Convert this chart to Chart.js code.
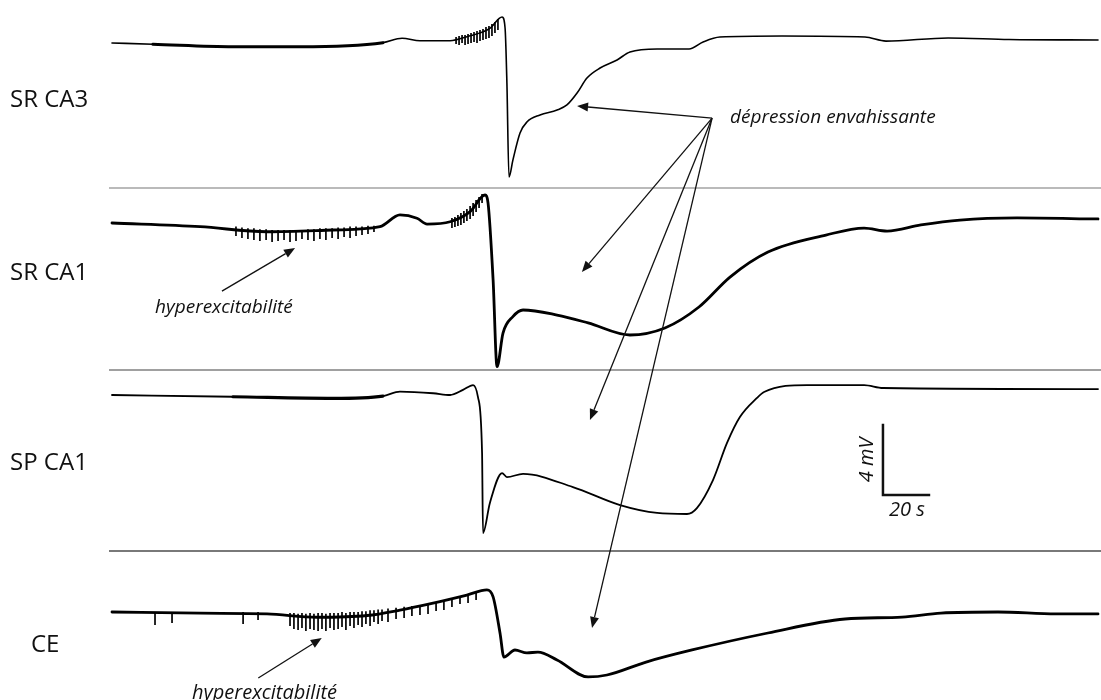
<!DOCTYPE html>
<html>
<head>
<meta charset="utf-8">
<script src="https://cdn.jsdelivr.net/npm/chart.js@4.4.0/dist/chart.umd.min.js"></script>
<style>
  body { margin: 0; background: #fff; }
  #wrap { position: relative; width: 1101px; height: 700px; }
</style>
</head>
<body>
<div id="wrap"><canvas id="traces"></canvas></div>
<script>
// time in s, potential in mV (0 = level at start of each recording)
const traceNames = ["SR CA3", "SR CA1", "SP CA1", "CE"];

const srCA3Time = [0, 17.8, 52.6, 81.7, 117.8, 126.1, 133.9, 147, 154.3, 164.3, 169.6, 170.9, 171.7, 172.6, 174.3, 177.4, 180.4, 186.1, 193.5, 197.8, 202.2, 206.5, 212.2, 219.6, 225.2, 237, 250.9, 257, 264.3, 291.3, 327.4, 336.5, 363.5, 390, 428.7];
const srCA3mV   = [0, -0.07, -0.21, -0.21, 0.02, 0.27, 0.13, 0.13, 0.36, 0.84, 1.49, 0.86, -2.29, -7.66, -6.69, -5.14, -4.51, -4.11, -3.83, -3.54, -2.86, -2.0, -1.43, -0.97, -0.51, -0.34, -0.34, 0.06, 0.34, 0.4, 0.34, 0.11, 0.29, 0.2, 0.17];

const srCA1Time = [0, 38.3, 67.4, 96.1, 116.5, 125.2, 132.6, 137, 147, 155.7, 162.2, 163.5, 165.7, 167.4, 170, 174.3, 178.7, 193.5, 207, 225.2, 240.4, 255.2, 268.7, 285.2, 310.4, 327, 337, 351.7, 368.7, 393.5, 428.7];
const srCA1mV   = [0, -0.21, -0.5, -0.4, -0.21, 0.46, 0.27, -0.06, 0.07, 0.65, 1.6, 1.14, -3.26, -8.21, -6.29, -5.35, -4.97, -5.26, -5.71, -6.4, -6.0, -4.8, -3.09, -1.66, -0.69, -0.29, -0.46, -0.11, 0.17, 0.29, 0.23];

const spCA1Time = [0, 52.6, 96.1, 117.8, 125.2, 139.6, 147, 152.6, 157, 159.1, 160.9, 161.3, 164.3, 169.6, 171.7, 178.7, 200.4, 220.9, 237, 250, 254.3, 261.3, 267.4, 273, 280.4, 283.5, 302.2, 327, 335.2, 428.7];
const spCA1mV   = [0, -0.1, -0.19, -0.06, 0.19, 0.1, 0, 0.29, 0.57, -0.11, -3.31, -7.89, -6.17, -4.46, -4.69, -4.51, -5.26, -6.29, -6.74, -6.8, -6.46, -4.86, -2.74, -1.26, -0.17, 0.17, 0.57, 0.57, 0.4, 0.34];

const ceTime = [0, 38.3, 67.4, 89.1, 110.9, 125.2, 139.6, 154.3, 163, 165.7, 168.7, 170.4, 175.2, 180.4, 185.2, 193.5, 207, 215.2, 232.2, 252.2, 285.2, 318.7, 343.5, 360.4, 385.2, 410.4, 428.7];
const ceMV   = [0, -0.07, -0.11, -0.3, -0.2, 0.11, 0.51, 0.97, 1.26, 0.86, -1.2, -2.57, -2.17, -2.34, -2.29, -2.74, -3.71, -3.6, -2.86, -2.17, -1.2, -0.4, -0.29, -0.06, 0, -0.11, -0.11];

// fast deflections (hyperexcitability): time, lowest and highest excursion
const srCA3NoiseTime = [149.6, 150.9, 152.2, 153.5, 154.8, 156.1, 157.4, 158.7, 160, 161.3, 162.6, 163.9, 165.2, 166.5, 167.8];
const srCA3NoiseLo   = [-0.06, -0.11, 0, -0.11, -0.06, 0, 0.06, 0, 0.11, 0.17, 0.23, 0.29, 0.4, 0.57, 0.74];
const srCA3NoiseHi   = [0.34, 0.4, 0.46, 0.46, 0.51, 0.57, 0.63, 0.69, 0.74, 0.8, 0.91, 0.97, 1.09, 1.2, 1.37];

const srCA1NoiseTime = [53.9, 56.5, 59.1, 61.7, 64.3, 67, 69.6, 72.2, 74.8, 77.4, 80, 82.6, 85.2, 87.8, 90.4, 93, 95.7, 98.3, 100.9, 103.5, 106.1, 108.7, 111.3, 113.9, 147.8, 149.1, 150.4, 151.7, 153, 154.3, 155.7, 157, 158.3, 159.6, 160.9];
const srCA1NoiseLo   = [-0.74, -0.86, -0.91, -0.97, -1.03, -0.97, -1.09, -1.03, -0.97, -1.09, -1.03, -0.91, -0.97, -1.03, -0.91, -0.97, -0.86, -0.91, -0.8, -0.86, -0.74, -0.69, -0.63, -0.51, -0.29, -0.23, -0.17, -0.11, 0, 0.11, 0.23, 0.4, 0.63, 0.86, 1.14];
const srCA1NoiseHi   = [-0.2, -0.25, -0.3, -0.3, -0.35, -0.35, -0.4, -0.4, -0.4, -0.4, -0.4, -0.4, -0.35, -0.35, -0.3, -0.3, -0.3, -0.25, -0.25, -0.2, -0.2, -0.2, -0.15, -0.15, 0.29, 0.34, 0.46, 0.57, 0.69, 0.8, 0.97, 1.14, 1.31, 1.49, 1.66];

const ceNoiseTime = [18.7, 26.1, 57, 63.5, 77.4, 79.1, 80.9, 82.6, 84.3, 86.1, 87.8, 89.6, 91.3, 93, 94.8, 96.5, 98.3, 100, 101.7, 103.5, 105.2, 107, 108.7, 110.4, 112.2, 113.9, 115.7, 117.4, 120, 123.5, 127, 130.4, 133.9, 137.4, 140.9, 144.3, 147.8, 151.3, 154.8, 158.3];
const ceNoiseLo   = [-0.74, -0.63, -0.69, -0.46, -0.8, -0.97, -1.03, -0.91, -1.09, -0.97, -1.03, -1.09, -0.97, -1.09, -0.91, -1.03, -0.97, -0.86, -1.03, -0.8, -0.91, -0.74, -0.86, -0.69, -0.8, -0.57, -0.69, -0.51, -0.57, -0.4, -0.34, -0.23, -0.17, -0.11, 0.06, 0.11, 0.29, 0.46, 0.51, 0.69];
const ceNoiseHi   = [0, 0, 0, 0, -0.06, -0.06, -0.1, -0.06, -0.1, -0.06, -0.1, -0.06, -0.06, -0.1, -0.06, -0.06, -0.06, 0, -0.06, 0, 0, 0, 0.05, 0.05, 0.1, 0.1, 0.15, 0.15, 0.2, 0.25, 0.3, 0.34, 0.4, 0.46, 0.57, 0.63, 0.74, 0.86, 0.97, 1.09];

// stretches where the trace is fuzzy (low-amplitude activity), in s
const srCA3Fuzzy = [[17, 120]];
const srCA1Fuzzy = [];
const spCA1Fuzzy = [[50, 118]];
const ceFuzzy = [];

// scale bar: 4 mV, 20 s
const scaleBarMV = 4;
const scaleBarS = 20;

// layout (pixels)
const PX_PER_S = 2.3;
const PX_PER_MV = 17.5;
const X0 = 112;
const H = 700, W = 1101;
const baselinePx = [43, 223, 395, 612];
const separatorPx = [188, 370, 551];
const separatorColor = ["#a3a3a3", "#808080", "#4d4d4d"];
const labelPos = [[10, 100], [10, 273], [10, 463], [31, 645]];
const lineWidths = [1.6, 2.8, 1.8, 2.8];

function toPoints(ts, vs) {
  return ts.map((t, i) => ({ x: t, y: vs[i] }));
}
function toSpikes(ts, lo, hi) {
  const pts = [];
  ts.forEach((t, i) => {
    pts.push({ x: t, y: lo[i] }, { x: t, y: hi[i] }, { x: t, y: null });
  });
  return pts;
}

const traces = [
  { t: srCA3Time, v: srCA3mV, nt: srCA3NoiseTime, nlo: srCA3NoiseLo, nhi: srCA3NoiseHi, fuzzy: srCA3Fuzzy },
  { t: srCA1Time, v: srCA1mV, nt: srCA1NoiseTime, nlo: srCA1NoiseLo, nhi: srCA1NoiseHi, fuzzy: srCA1Fuzzy },
  { t: spCA1Time, v: spCA1mV, nt: [], nlo: [], nhi: [], fuzzy: spCA1Fuzzy },
  { t: ceTime, v: ceMV, nt: ceNoiseTime, nlo: ceNoiseLo, nhi: ceNoiseHi, fuzzy: ceFuzzy }
];

const datasets = [];
const scales = {
  x: { type: "linear", display: false, min: -X0 / PX_PER_S, max: (W - X0) / PX_PER_S }
};
traces.forEach((tr, i) => {
  const id = "y" + i;
  scales[id] = {
    type: "linear", display: false,
    min: -(H - baselinePx[i]) / PX_PER_MV,
    max: baselinePx[i] / PX_PER_MV
  };
  datasets.push({
    label: traceNames[i], data: toPoints(tr.t, tr.v), yAxisID: id,
    borderColor: "#000", borderWidth: lineWidths[i], pointRadius: 0,
    cubicInterpolationMode: "monotone",
    borderJoinStyle: "round", borderCapStyle: "round",
    segment: {
      borderWidth: ctx => {
        const mid = (ctx.p0.parsed.x + ctx.p1.parsed.x) / 2;
        return tr.fuzzy.some(f => mid >= f[0] && mid <= f[1]) ? lineWidths[i] + 1.4 : lineWidths[i];
      }
    }
  });
  if (tr.nt.length) {
    datasets.push({
      label: traceNames[i] + " noise", data: toSpikes(tr.nt, tr.nlo, tr.nhi), yAxisID: id,
      borderColor: "#111", borderWidth: 1.8, pointRadius: 0, spanGaps: false
    });
  }
});

// annotations in data units: [axis, t, mV]
const arrowTail = ["y0", 260.9, -4.29];
const depressionHeads = [["y0", 202.2, -3.6], ["y1", 204.3, -2.8], ["y2", 207.8, -1.43], ["y3", 208.7, -0.91]];
const hyperArrows = [
  [["y1", 47.8, -3.89], ["y1", 79.6, -1.43]],
  [["y3", 63.6, -3.77], ["y3", 91.2, -1.49]]
];

function px(chart, p) {
  return [chart.scales.x.getPixelForValue(p[1]), chart.scales[p[0]].getPixelForValue(p[2])];
}
function arrow(ctx, a, b) {
  const ang = Math.atan2(b[1] - a[1], b[0] - a[0]);
  const len = 11, hw = 4.5;
  const bx = b[0] - len * Math.cos(ang), by = b[1] - len * Math.sin(ang);
  ctx.beginPath();
  ctx.moveTo(a[0], a[1]);
  ctx.lineTo(bx, by);
  ctx.stroke();
  ctx.beginPath();
  ctx.moveTo(b[0], b[1]);
  ctx.lineTo(bx + hw * Math.sin(ang), by - hw * Math.cos(ang));
  ctx.lineTo(bx - hw * Math.sin(ang), by + hw * Math.cos(ang));
  ctx.closePath();
  ctx.fill();
}

const decor = {
  id: "decor",
  beforeDatasetsDraw(chart) {
    const ctx = chart.ctx;
    ctx.save();
    separatorPx.forEach((y, i) => {
      ctx.strokeStyle = separatorColor[i];
      ctx.lineWidth = 1.4;
      ctx.beginPath();
      ctx.moveTo(109, y);
      ctx.lineTo(W, y);
      ctx.stroke();
    });
    ctx.fillStyle = "#111";
    ctx.font = "24px 'Open Sans', sans-serif";
    ctx.textBaseline = "middle";
    traceNames.forEach((n, i) => ctx.fillText(n, labelPos[i][0], labelPos[i][1]));
    ctx.restore();
  },
  afterDatasetsDraw(chart) {
    const ctx = chart.ctx;
    ctx.save();
    ctx.strokeStyle = "#111";
    ctx.fillStyle = "#111";
    ctx.lineWidth = 1.3;
    const tail = px(chart, arrowTail);
    depressionHeads.forEach(h => arrow(ctx, tail, px(chart, h)));
    hyperArrows.forEach(a => arrow(ctx, px(chart, a[0]), px(chart, a[1])));

    ctx.font = "italic 19px 'Open Sans', sans-serif";
    ctx.textBaseline = "middle";
    ctx.fillText("dépression envahissante", ...px(chart, ["y0", 268.7, -4.29]));
    ctx.fillText("hyperexcitabilité", ...px(chart, ["y1", 18.7, -4.86]));
    ctx.textBaseline = "alphabetic";
    ctx.font = "italic 20px 'Open Sans', sans-serif";
    ctx.fillText("hyperexcitabilité", ...px(chart, ["y3", 34.8, -4.97]));

    // scale bar on the SP CA1 axis
    const t0 = 335.2, v0 = -5.71;
    const [x0, y0] = px(chart, ["y2", t0, v0]);
    const [, y1] = px(chart, ["y2", t0, v0 + scaleBarMV]);
    const [x1] = px(chart, ["y2", t0 + scaleBarS, v0]);
    ctx.lineWidth = 2.5;
    ctx.lineCap = "square";
    ctx.beginPath();
    ctx.moveTo(x0, y1);
    ctx.lineTo(x0, y0);
    ctx.lineTo(x1, y0);
    ctx.stroke();
    ctx.font = "italic 20px 'Open Sans', sans-serif";
    ctx.textAlign = "center";
    ctx.textBaseline = "middle";
    ctx.fillText(scaleBarS + " s", (x0 + x1) / 2 + 1, y0 + 15);
    ctx.translate(x0 - 16, (y0 + y1) / 2);
    ctx.rotate(-Math.PI / 2);
    ctx.fillText(scaleBarMV + " mV", 0, 0);
    ctx.restore();
  }
};

new Chart(document.getElementById("traces"), {
  type: "line",
  data: { datasets: datasets },
  options: {
    responsive: true,
    maintainAspectRatio: false,
    animation: false,
    layout: { padding: 0 },
    plugins: { legend: { display: false }, tooltip: { enabled: false } },
    scales: scales
  },
  plugins: [decor]
});
</script>
</body>
</html>
